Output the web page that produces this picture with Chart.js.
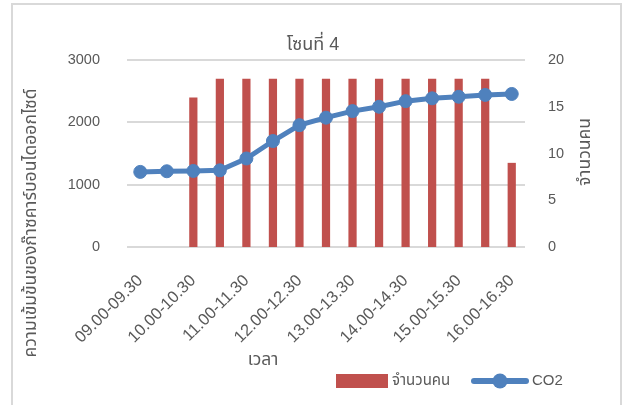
<!DOCTYPE html>
<html><head><meta charset="utf-8">
<script src="https://cdn.jsdelivr.net/npm/chart.js@4/dist/chart.umd.min.js"></script>
<style>html,body{margin:0;padding:0;background:#fff}#wrap{position:relative;width:627px;height:405px}</style>
</head><body><div id="wrap"><canvas id="c" width="627" height="405"></canvas></div>
<script>
const categories = ['09.00-09.30','09.30-10.00','10.00-10.30','10.30-11.00','11.00-11.30','11.30-12.00','12.00-12.30','12.30-13.00','13.00-13.30','13.30-14.00','14.00-14.30','14.30-15.00','15.00-15.30','15.30-16.00','16.00-16.30'];
const peopleCount = [0,0,16,18,18,18,18,18,18,18,18,18,18,18,9];
const co2Values = [1205,1215,1220,1230,1420,1700,1955,2075,2180,2250,2340,2385,2410,2440,2455];
const leftTicks = [0,1000,2000,3000];
const rightTicks = [0,5,10,15,20];
const chartTitle = 'โซนที่ 4';
const leftAxisTitle = 'ความเข้มข้นของก๊าซคาร์บอนไดออกไซด์';
const rightAxisTitle = 'จำนวนคน';
const xAxisTitle = 'เวลา';

const FONT = "'Liberation Sans', 'Noto Sans Thai', Tahoma, sans-serif";
const TXT = '#595959';
const RED = '#C0504D';
const BLUE = '#4F81BD';
Chart.defaults.font.family = FONT;
Chart.defaults.color = TXT;

const decor = {
  id: 'decor',
  beforeDraw(chart) {
    const ctx = chart.ctx;
    ctx.save();
    ctx.strokeStyle = '#d9d9d9';
    ctx.lineWidth = 2;
    ctx.strokeRect(12, 4, 609, 430);
    ctx.restore();
  },
  afterDraw(chart) {
    const ctx = chart.ctx;
    ctx.save();
    ctx.fillStyle = TXT;
    ctx.textAlign = 'center';
    ctx.textBaseline = 'middle';
    ctx.font = '18px ' + FONT;
    ctx.fillText(chartTitle, 313, 45);
    ctx.font = '17.5px ' + FONT;
    ctx.fillText(xAxisTitle, 263, 360);
    ctx.save(); ctx.translate(31, 223); ctx.rotate(-Math.PI / 2);
    ctx.fillText(leftAxisTitle, 0, 0); ctx.restore();
    ctx.save(); ctx.translate(585, 152); ctx.rotate(-Math.PI / 2);
    ctx.fillText(rightAxisTitle, 0, 0); ctx.restore();
    // legend
    ctx.font = '15px ' + FONT;
    const ds = chart.data.datasets;
    const bar = ds[1], line = ds[0];
    ctx.textAlign = 'left';
    ctx.fillStyle = bar.backgroundColor;
    ctx.fillRect(336, 374, 52, 14);
    ctx.fillStyle = TXT;
    ctx.fillText(bar.label, 392, 381);
    ctx.strokeStyle = line.borderColor;
    ctx.lineWidth = 6; ctx.lineCap = 'round';
    ctx.beginPath(); ctx.moveTo(474, 381); ctx.lineTo(526, 381); ctx.stroke();
    ctx.fillStyle = line.borderColor;
    ctx.beginPath(); ctx.arc(500, 381, 7.5, 0, Math.PI * 2); ctx.fill();
    ctx.fillStyle = TXT;
    ctx.fillText(line.label, 532, 381);
    ctx.restore();
  }
};

new Chart(document.getElementById('c'), {
  data: {
    labels: categories,
    datasets: [
      { type: 'line', label: 'CO2', data: co2Values, yAxisID: 'y', order: 0,
        borderColor: BLUE, backgroundColor: BLUE, borderWidth: 5, tension: 0,
        pointRadius: 6.5, pointBorderWidth: 1, pointBackgroundColor: BLUE, pointBorderColor: BLUE },
      { type: 'bar', label: 'จำนวนคน', data: peopleCount, yAxisID: 'y2', order: 1,
        backgroundColor: RED, barPercentage: 0.31, categoryPercentage: 1 }
    ]
  },
  options: {
    responsive: false,
    animation: false,
    layout: { padding: { top: 60, left: 0, right: 0, bottom: 0 } },
    plugins: { legend: { display: false }, title: { display: false }, tooltip: { enabled: false } },
    scales: {
      x: {
        offset: true,
        grid: { display: false },
        border: { display: false },
        afterFit(s) { s.height = 158; },
        ticks: {
          autoSkip: false, minRotation: 45, maxRotation: 45, padding: 16,
          font: { size: 16.5 }, color: TXT,
          callback: (v, i) => (i % 2 === 0 ? categories[i] : '')
        }
      },
      y: {
        position: 'left', min: 0, max: 3000,
        afterBuildTicks(s) { s.ticks = leftTicks.map(v => ({ value: v })); },
        afterFit(s) { s.width = 127; },
        grid: { color: '#d9d9d9', lineWidth: 2, drawTicks: false },
        border: { display: false },
        ticks: { padding: 27, font: { size: 14.5 }, color: TXT, callback: v => String(v) }
      },
      y2: {
        position: 'right', min: 0, max: 20,
        afterBuildTicks(s) { s.ticks = rightTicks.map(v => ({ value: v })); },
        afterFit(s) { s.width = 102; },
        grid: { display: false, drawTicks: false },
        border: { display: false },
        ticks: { padding: 23, font: { size: 14.5 }, color: TXT, callback: v => String(v) }
      }
    }
  },
  plugins: [decor]
});
</script></body></html>
